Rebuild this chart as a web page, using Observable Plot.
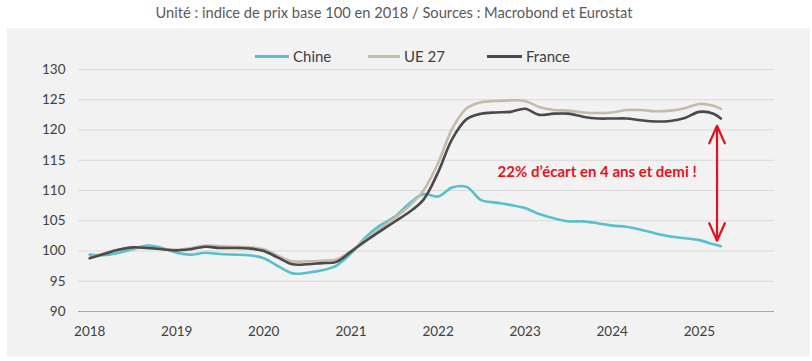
<!DOCTYPE html>
<html><head><meta charset="utf-8">
<script src="https://cdn.jsdelivr.net/npm/d3@7"></script>
<script src="https://cdn.jsdelivr.net/npm/@observablehq/plot@0.6"></script>
<style>
body{margin:0;background:#fff;font-family:Lato,"Open Sans",sans-serif;width:812px;height:361px;overflow:hidden;position:relative}
#title{position:absolute;left:0;top:3px;width:788px;text-align:center;font-size:14.7px;color:#595959;white-space:nowrap}
#panel{position:absolute;left:7px;top:28px;width:803px;height:329px;background:#f2f2f2}
#chart{position:absolute;left:0;top:0}
.lg{position:absolute;top:18px;font-size:15px;color:#404040;white-space:nowrap;line-height:20px}
</style></head>
<body>
<div id="title">Unité : indice de prix base 100 en 2018 / Sources : Macrobond et Eurostat</div>
<div id="panel"><div id="chart"></div><div id="legend"></div></div>
<script>
// months since Jan 2018
const months = [0,2,4,6,8,10,12,14,16,18,20,22,24,26,28,30,32,34,36,38,40,42,44,46,48,50,52,54,56,58,60,62,64,66,68,70,72,74,76,78,80,82,84,86,87];
const chine = [99.4,99.3,99.7,100.3,100.9,100.5,99.7,99.4,99.7,99.5,99.4,99.3,98.8,97.5,96.3,96.4,96.8,97.6,99.6,102.2,104.2,105.6,107.8,109.4,109.0,110.5,110.6,108.4,108.0,107.6,107.1,106.1,105.4,104.9,104.9,104.6,104.2,104.0,103.5,102.9,102.4,102.1,101.8,101.1,100.8];
const ue27 = [98.9,99.6,100.2,100.5,100.5,100.3,100.2,100.5,100.9,100.8,100.7,100.6,100.3,99.2,98.3,98.3,98.4,98.6,100.0,101.8,103.6,105.4,107.4,110.0,114.5,120.2,123.6,124.6,124.8,124.9,124.8,123.8,123.3,123.2,122.9,122.8,122.9,123.3,123.3,123.1,123.2,123.6,124.3,124.0,123.5];
const france = [98.8,99.5,100.2,100.6,100.5,100.3,100.1,100.3,100.7,100.5,100.5,100.4,100.0,98.9,97.8,97.8,98.0,98.2,99.9,101.6,103.2,104.8,106.4,108.5,113.0,118.5,121.8,122.7,122.9,123.0,123.5,122.5,122.7,122.7,122.2,121.9,121.9,121.9,121.6,121.4,121.5,122.0,123.0,122.7,121.9];
const seriesNames = ["Chine","UE 27","France"];
const seriesColors = ["#56c0cf","#c5bba8","#4a4a4a"];
const yearTicks = [2018,2019,2020,2021,2022,2023,2024,2025];
const yTicks = [90,95,100,105,110,115,120,125,130];
const annotText = ["22% d\u2019écart en 4 ans et demi !"];
const annotDate = [new Date(2023,9,30)];
const annotValue = [113.1];
const arrowDate = new Date(2025,2,16);
const arrowMid = 111.2, arrowTop = 120.7, arrowBottom = 101.7;

const rows = months.map((m,i)=>({date:new Date(2018,m,1), chine:chine[i], ue:ue27[i], france:france[i]}));
const annot = annotText.map((t,i)=>({text:t, date:annotDate[i], v:annotValue[i]}));
const arrows = [{x:arrowDate,y1:arrowMid,y2:arrowTop},{x:arrowDate,y1:arrowMid,y2:arrowBottom}];

const chart = Plot.plot({
  width:803, height:329,
  marginLeft:71, marginRight:36, marginTop:41, marginBottom:46,
  style:{background:"transparent", fontFamily:"Lato, 'Open Sans', sans-serif", fontSize:"13.5px", color:"#404040"},
  x:{type:"time", domain:[new Date(2017,10,15), new Date(2025,10,12)], ticks:yearTicks.map(y=>new Date(y,0,1)), tickFormat:d3.timeFormat("%Y"), tickSize:0, tickPadding:15, label:null},
  y:{domain:[90,130], ticks:yTicks, tickSize:0, tickPadding:13, label:null},
  marks:[
    Plot.ruleY(yTicks.filter(v=>v>90), {stroke:"#d9d9d9", strokeWidth:1}),
    Plot.ruleY([90], {stroke:"#6fbfd2", strokeWidth:1.2}),
    Plot.lineY(rows,{x:"date", y:"chine", stroke:seriesColors[0], strokeWidth:2.6, curve:"catmull-rom"}),
    Plot.lineY(rows,{x:"date", y:"ue", stroke:seriesColors[1], strokeWidth:2.6, curve:"catmull-rom"}),
    Plot.lineY(rows,{x:"date", y:"france", stroke:seriesColors[2], strokeWidth:2.6, curve:"catmull-rom"}),
    Plot.text(annot,{x:"date", y:"v", text:"text", fill:"#e5121b", fontWeight:"bold", fontSize:15}),
    Plot.arrow(arrows,{x:"x", y1:"y1", x2:"x", y2:"y2", stroke:"#e5121b", strokeWidth:2.2, headLength:15, headAngle:48})
  ]
});
document.getElementById("chart").appendChild(chart);

// legend (HTML)
const legendPos = [[248,286],[361,397],[480,519]];
const lg = document.getElementById("legend");
seriesNames.forEach((n,i)=>{
  const sw = document.createElement("div");
  sw.style.cssText = `position:absolute;top:27px;left:${legendPos[i][0]}px;width:${legendPos[i][1]-legendPos[i][0]-4}px;height:2.5px;background:${seriesColors[i]}`;
  lg.appendChild(sw);
  const t = document.createElement("div");
  t.className="lg"; t.style.left = legendPos[i][1]+"px"; t.textContent = n;
  lg.appendChild(t);
});
</script>
</body></html>
